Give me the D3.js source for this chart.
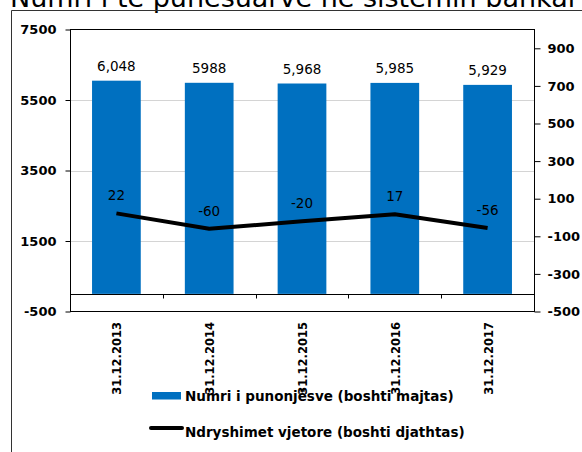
<!DOCTYPE html>
<html>
<head>
<meta charset="utf-8">
<script src="https://cdn.jsdelivr.net/npm/d3@7"></script>
<style>
  html, body { margin: 0; padding: 0; background: #fff; }
  svg { display: block; font-family: "DejaVu Sans", Verdana, sans-serif; }
</style>
</head>
<body>
<svg id="chart" width="582" height="452"></svg>
<script>
// Staff in the banking system, year-end counts and annual change
const categories = ["31.12.2013", "31.12.2014", "31.12.2015", "31.12.2016", "31.12.2017"];
const employees = [6048, 5988, 5968, 5985, 5929];
const employeeLabels = ["6,048", "5988", "5,968", "5,985", "5,929"];
const annualChange = [22, -60, -20, 17, -56];
const leftTicks = [-500, 1500, 3500, 5500, 7500];
const rightTicks = [-500, -300, -100, 100, 300, 500, 700, 900];
const gridValues = [1500, 3500, 5500];

const title = "Numri i të punësuarve në sistemin bankar";
const legendItems = ["Numri i punonjësve (boshti majtas)", "Ndryshimet vjetore (boshti djathtas)"];

const BLUE = "#0070C0";
const svg = d3.select("#chart");

const plot = { left: 70, right: 534, top: 29.5, bottom: 311.5 };

const x = d3.scaleBand()
  .domain(categories)
  .range([plot.left, plot.right])
  .paddingInner(0.475)
  .paddingOuter(0.2375);

const yLeft = d3.scaleLinear().domain([-500, 7500]).range([plot.bottom, plot.top]);
const yRight = d3.scaleLinear().domain([-500, 1000]).range([plot.bottom, plot.top]);

// Plain integers with an ASCII hyphen for negatives
const plain = d => String(d);

// Title (runs off the top edge) and outer frame
svg.append("text")
  .attr("x", 10).attr("y", 7)
  .attr("font-size", 27)
  .attr("fill", "#000")
  .text(title);

svg.append("path")
  .attr("d", "M11.5,460 V10.5 H590")
  .attr("fill", "none")
  .attr("stroke", "#333")
  .attr("stroke-width", 1);

// Gridlines
svg.append("g")
  .selectAll("line")
  .data(gridValues)
  .join("line")
  .attr("x1", plot.left).attr("x2", plot.right)
  .attr("y1", d => Math.round(yLeft(d)) + 0.5)
  .attr("y2", d => Math.round(yLeft(d)) + 0.5)
  .attr("stroke", "#d4d4d4")
  .attr("stroke-width", 1);

// Bars
svg.append("g")
  .selectAll("rect")
  .data(employees)
  .join("rect")
  .attr("x", (d, i) => x(categories[i]))
  .attr("width", x.bandwidth())
  .attr("y", d => yLeft(d))
  .attr("height", d => yLeft(0) - yLeft(d))
  .attr("fill", BLUE);

// Bar value labels
svg.append("g")
  .selectAll("text")
  .data(employees)
  .join("text")
  .attr("x", (d, i) => x(categories[i]) + x.bandwidth() / 2)
  .attr("y", d => yLeft(d) - 9.5)
  .attr("text-anchor", "middle")
  .attr("font-size", 13.5)
  .attr("fill", "#000")
  .text((d, i) => employeeLabels[i]);

// Left axis
const leftAxis = d3.axisLeft(yLeft).tickValues(leftTicks).tickFormat(plain)
  .tickSize(5).tickPadding(9).tickSizeOuter(0);
const gl = svg.append("g").attr("transform", `translate(${plot.left + 0.5},0)`).call(leftAxis);
gl.select(".domain").remove();
gl.selectAll(".tick line").attr("stroke", "#000");
gl.selectAll("text").attr("font-size", 13).attr("font-weight", "bold").attr("font-family", "DejaVu Sans").attr("fill", "#000");

// Right axis
const rightAxis = d3.axisRight(yRight).tickValues(rightTicks).tickFormat(plain)
  .tickSize(6).tickPadding(7).tickSizeOuter(0);
const gr = svg.append("g").attr("transform", `translate(${plot.right + 0.5},0)`).call(rightAxis);
gr.select(".domain").remove();
gr.selectAll(".tick line").attr("stroke", "#000");
gr.selectAll("text").attr("font-size", 13).attr("font-weight", "bold").attr("font-family", "DejaVu Sans").attr("fill", "#000");

// Plot area border
svg.append("rect")
  .attr("x", plot.left + 0.5).attr("y", plot.top)
  .attr("width", plot.right - plot.left).attr("height", plot.bottom - plot.top)
  .attr("fill", "none")
  .attr("stroke", "#000")
  .attr("stroke-width", 1);

// Category axis on the zero line
const zeroY = Math.round(yLeft(0)) + 0.5;
svg.append("line")
  .attr("x1", plot.left).attr("x2", plot.right)
  .attr("y1", zeroY).attr("y2", zeroY)
  .attr("stroke", "#000");

const step = x.step();
const boundaries = d3.range(1, categories.length).map(i => plot.left + step * i);
svg.append("g")
  .selectAll("line")
  .data(boundaries)
  .join("line")
  .attr("x1", d => Math.round(d) + 0.5).attr("x2", d => Math.round(d) + 0.5)
  .attr("y1", zeroY).attr("y2", zeroY + 4)
  .attr("stroke", "#000");

// Rotated category labels below the plot
svg.append("g")
  .selectAll("text")
  .data(categories)
  .join("text")
  .attr("transform", d => `translate(${x(d) + x.bandwidth() / 2 + 1},322) rotate(-90)`)
  .attr("text-anchor", "end")
  .attr("dy", "0.35em")
  .attr("font-size", 11.5)
  .attr("font-weight", "bold")
  .attr("fill", "#000")
  .text(d => d);

// Annual change line (right axis)
const line = d3.line()
  .x((d, i) => x(categories[i]) + x.bandwidth() / 2)
  .y(d => yRight(d));

svg.append("path")
  .datum(annualChange)
  .attr("d", line)
  .attr("fill", "none")
  .attr("stroke", "#000")
  .attr("stroke-width", 4)
  .attr("stroke-linejoin", "round");

svg.append("g")
  .selectAll("text")
  .data(annualChange)
  .join("text")
  .attr("x", (d, i) => x(categories[i]) + x.bandwidth() / 2)
  .attr("y", d => yRight(d) - 13)
  .attr("text-anchor", "middle")
  .attr("font-size", 13.5)
  .attr("fill", "#000")
  .text(plain);

// Legend
const legend = svg.append("g").attr("font-size", 13.5).attr("font-weight", "bold");
legend.append("rect")
  .attr("x", 152).attr("y", 392).attr("width", 29).attr("height", 7.5)
  .attr("fill", BLUE);
legend.append("text")
  .attr("x", 185).attr("y", 401)
  .attr("fill", "#000")
  .text(legendItems[0]);
legend.append("line")
  .attr("x1", 151).attr("x2", 182).attr("y1", 428).attr("y2", 428)
  .attr("stroke", "#000").attr("stroke-width", 4).attr("stroke-linecap", "round");
legend.append("text")
  .attr("x", 185).attr("y", 437)
  .attr("fill", "#000")
  .text(legendItems[1]);
</script>
</body>
</html>
